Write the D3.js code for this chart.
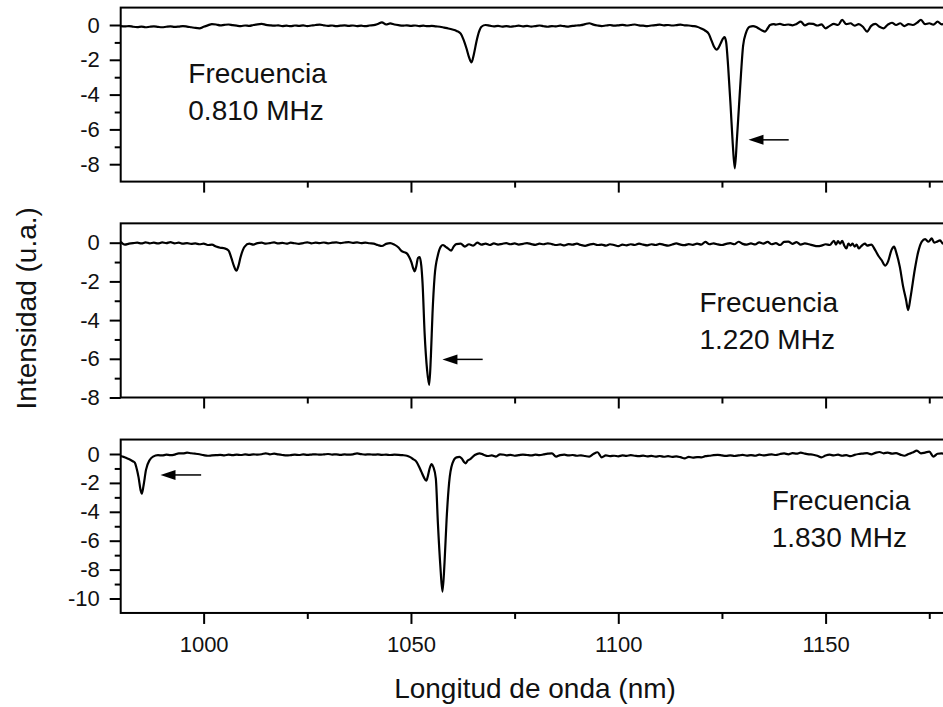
<!DOCTYPE html>
<html><head><meta charset="utf-8">
<script src="https://cdn.jsdelivr.net/npm/d3@7"></script>
<style>
html,body{margin:0;padding:0;background:#fff;}
svg{display:block;}
</style>
</head><body>
<svg id="c" width="943" height="707"></svg>
<script>
// ---------------- DATA ----------------
const wavelengthDomain = [980, 1180];
const xMajorTicks = [1000, 1050, 1100, 1150];
const xMinorTicks = [1025, 1075, 1125, 1175];

const yDomains = [[1, -9], [1, -8], [1, -11]];
const yMajorTicks = [[0, -2, -4, -6, -8], [0, -2, -4, -6, -8], [0, -2, -4, -6, -8, -10]];
const yMinorTicks = [[-1, -3, -5, -7], [-1, -3, -5, -7], [-1, -3, -5, -7, -9]];

const panelLabels = [["Frecuencia", "0.810 MHz"], ["Frecuencia", "1.220 MHz"], ["Frecuencia", "1.830 MHz"]];
const xTitle = "Longitud de onda (nm)";
const yTitle = "Intensidad (u.a.)";

// arrows: [head wavelength, tail wavelength, intensity]
const arrowHeads = [1131.4, 1057.6, 989.6];
const arrowTails = [1141.1, 1067.3, 999.4];
const arrowLevels = [-6.6, -6.03, -1.45];

// spectra: [wavelength nm, intensity u.a.]
const spectrum1 = [
[980,-0.06],[981,-0.08],[982,-0.06],[983,-0.1],[984,-0.12],[985,-0.09],[986,-0.13],[987,-0.1],[988,-0.08],[989,-0.11],
[990,-0.13],[991,-0.1],[992,-0.08],[993,-0.11],[994,-0.09],[995,-0.06],[996,-0.09],[997,-0.13],[998,-0.17],[999,-0.19],
[1000,-0.1],[1001,-0.02],[1002,0.05],[1003,0.03],[1004,-0.02],[1005,0.01],[1006,0.03],[1007,-0.01],[1008,-0.04],[1009,-0.06],
[1010,-0.03],[1011,-0.05],[1012,0.0],[1013,0.04],[1014,0.06],[1015,0.01],[1016,-0.02],[1017,-0.04],[1018,-0.02],[1019,-0.06],
[1020,-0.04],[1021,-0.07],[1022,-0.03],[1023,-0.05],[1024,-0.02],[1025,-0.06],[1026,-0.03],[1027,0.0],[1028,0.02],[1029,-0.02],
[1030,-0.05],[1031,-0.03],[1032,-0.07],[1033,-0.04],[1034,-0.02],[1035,-0.05],[1036,-0.03],[1037,-0.06],[1038,-0.04],[1039,-0.07],
[1040,-0.03],[1041,-0.01],[1042,0.06],[1043,0.15],[1044,0.03],[1045,0.09],[1046,0.03],[1047,-0.01],[1048,-0.04],[1049,-0.02],
[1050,-0.05],[1051,-0.03],[1052,-0.06],[1053,-0.04],[1054,-0.07],[1055,-0.05],[1056,-0.08],[1057,-0.1],[1058,-0.15],[1059,-0.2],
[1060,-0.26],[1061,-0.34],[1062,-0.5],[1062.7,-0.85],[1063.4,-1.35],[1064,-1.85],[1064.6,-2.15],[1065.2,-1.65],[1065.8,-0.95],[1066.4,-0.4],
[1067,-0.1],[1068,0.0],[1069,-0.04],[1070,-0.08],[1071,-0.05],[1072,-0.09],[1073,-0.06],[1074,-0.1],[1075,-0.07],[1076,-0.04],
[1077,-0.08],[1078,-0.05],[1079,-0.09],[1080,-0.06],[1081,-0.03],[1082,-0.07],[1083,-0.1],[1084,-0.06],[1085,-0.08],[1086,-0.04],
[1087,-0.07],[1088,-0.09],[1089,-0.05],[1090,-0.03],[1091,-0.01],[1092,0.05],[1093,0.1],[1094,0.02],[1095,-0.03],[1096,-0.06],
[1097,-0.03],[1098,0.0],[1099,-0.04],[1100,-0.02],[1101,0.01],[1102,-0.03],[1103,0.0],[1104,0.03],[1105,-0.02],[1106,-0.04],
[1107,-0.06],[1108,-0.03],[1109,-0.01],[1110,0.02],[1111,-0.02],[1112,0.0],[1113,-0.03],[1114,-0.01],[1115,0.02],[1116,-0.02],
[1117,-0.03],[1118,-0.06],[1119,-0.1],[1120,-0.2],[1121,-0.33],[1121.8,-0.5],[1122.5,-0.9],[1123.1,-1.25],[1123.7,-1.42],[1124.2,-1.3],
[1124.7,-1.05],[1125.2,-0.8],[1125.6,-0.7],[1126,-0.96],[1126.5,-2.4],[1127.1,-4.7],[1127.6,-6.8],[1128.1,-8.24],[1128.6,-6.6],[1129.1,-4.7],
[1129.6,-2.8],[1130.1,-1.2],[1130.8,-0.45],[1131.7,-0.1],[1132.5,-0.06],[1133.3,-0.12],[1134,-0.22],[1134.7,-0.32],[1135.4,-0.38],[1136,-0.2],
[1136.6,0.0],[1137.5,0.05],[1138,0.02],[1139,0.06],[1140,0.0],[1141,0.03],[1142,-0.02],[1143,0.06],[1144,0.19],[1145,-0.02],
[1146,0.08],[1147,0.06],[1148,-0.03],[1149,0.04],[1150,-0.19],[1151,-0.05],[1152,0.06],[1153,0.0],[1154,0.29],[1155,0.05],
[1156,0.1],[1157,-0.04],[1158,0.05],[1159,-0.1],[1160,-0.38],[1161,-0.05],[1162,0.06],[1163,-0.1],[1164,-0.19],[1165,0.02],
[1166,0.13],[1167,0.0],[1168,0.1],[1169,-0.06],[1170,0.05],[1171,0.0],[1172,0.12],[1173,0.29],[1174,0.05],[1175,0.1],
[1176,0.02],[1177,0.19],[1178,0.04],[1179,0.08],[1180,0.02]
];

const spectrum2 = [
[980,0.05],[981,-0.1],[982,-0.05],[983,-0.02],[984,0.0],[985,-0.04],[986,0.02],[987,-0.03],[988,0.0],[989,-0.04],
[990,0.02],[991,-0.02],[992,0.03],[993,-0.03],[994,0.0],[995,-0.05],[996,-0.02],[997,-0.06],[998,-0.04],[999,-0.08],
[1000,-0.05],[1001,-0.12],[1002,-0.1],[1003,-0.2],[1004,-0.26],[1005,-0.29],[1006,-0.4],[1006.7,-0.8],[1007.3,-1.2],[1007.9,-1.45],
[1008.4,-1.2],[1008.9,-0.75],[1009.9,-0.2],[1011,-0.05],[1012,-0.1],[1013,-0.02],[1014,0.0],[1015,-0.05],[1016,-0.02],[1017,0.02],
[1018,-0.04],[1019,-0.01],[1020,-0.05],[1021,0.0],[1022,-0.03],[1023,-0.06],[1024,-0.02],[1025,0.02],[1026,-0.03],[1027,0.0],
[1028,-0.02],[1029,0.01],[1030,-0.03],[1031,0.0],[1032,0.02],[1033,-0.02],[1034,0.01],[1035,0.03],[1036,-0.01],[1037,0.02],
[1038,-0.02],[1039,0.0],[1040,-0.03],[1041,-0.05],[1042,-0.12],[1043,-0.17],[1044,-0.06],[1045,-0.02],[1046,-0.1],[1047,-0.25],
[1047.7,-0.42],[1048.5,-0.5],[1049,-0.55],[1049.6,-0.75],[1050.1,-1.0],[1050.5,-1.3],[1050.9,-1.48],[1051.3,-1.2],[1051.7,-0.79],[1052.1,-0.75],
[1052.5,-1.2],[1052.8,-2.1],[1053.3,-4.7],[1053.9,-6.6],[1054.4,-7.35],[1054.8,-5.9],[1055.2,-3.65],[1055.7,-1.76],[1056.5,-0.64],[1057.2,-0.2],
[1057.7,-0.12],[1058.3,-0.2],[1058.9,-0.29],[1059.7,-0.41],[1060.3,-0.2],[1060.9,-0.07],[1062,-0.05],[1063,-0.2],[1064,-0.08],[1065,-0.15],
[1066,0.0],[1067,-0.1],[1068,-0.05],[1069,-0.12],[1070,-0.04],[1071,-0.1],[1072,-0.06],[1073,-0.02],[1074,-0.08],[1075,-0.04],
[1076,-0.1],[1077,-0.06],[1078,-0.02],[1079,-0.07],[1080,-0.11],[1081,-0.05],[1082,-0.08],[1083,-0.03],[1084,-0.07],[1085,-0.12],
[1086,-0.09],[1087,-0.14],[1088,-0.07],[1089,-0.1],[1090,-0.05],[1091,-0.12],[1092,-0.16],[1093,-0.1],[1094,-0.06],[1095,-0.12],
[1096,-0.1],[1097,-0.15],[1098,-0.08],[1099,-0.12],[1100,-0.18],[1101,-0.1],[1102,-0.14],[1103,-0.08],[1104,-0.12],[1105,-0.05],
[1106,-0.1],[1107,-0.14],[1108,-0.08],[1109,-0.12],[1110,-0.06],[1111,-0.11],[1112,-0.15],[1113,-0.09],[1114,-0.04],[1115,-0.1],
[1116,-0.13],[1117,-0.07],[1118,-0.11],[1119,-0.05],[1120,-0.1],[1121,0.04],[1122,-0.08],[1123,-0.03],[1124,-0.09],[1125,-0.12],
[1126,-0.06],[1127,-0.02],[1128,-0.08],[1129,0.05],[1130,-0.06],[1131,-0.1],[1132,-0.04],[1133,-0.09],[1134,0.02],[1135,-0.05],
[1136,0.04],[1137,-0.08],[1138,-0.02],[1139,-0.12],[1140,0.04],[1141,0.06],[1142,-0.06],[1143,0.03],[1144,-0.1],[1145,-0.04],
[1146,-0.08],[1147,-0.14],[1148,-0.18],[1149,-0.15],[1150,-0.08],[1151,-0.12],[1152,0.1],[1152.5,-0.1],[1153,0.08],[1153.5,-0.05],
[1154,0.1],[1154.5,-0.15],[1155,-0.3],[1155.5,-0.05],[1156,-0.15],[1156.5,-0.05],[1157,-0.2],[1157.5,-0.1],[1158,-0.3],[1158.5,-0.2],
[1159,-0.1],[1159.5,-0.05],[1160,-0.15],[1161,-0.1],[1162,-0.4],[1162.8,-0.7],[1163.5,-0.9],[1164.4,-1.18],[1165.1,-0.95],[1165.9,-0.37],
[1166.5,-0.2],[1167.1,-0.55],[1167.9,-1.25],[1168.7,-2.27],[1169.4,-2.95],[1169.9,-3.48],[1170.5,-2.8],[1171.5,-1.4],[1172.3,-0.5],[1173.2,0.06],
[1174,0.18],[1174.8,0.05],[1175.6,0.22],[1176.2,0.0],[1176.8,0.05],[1177.6,0.12],[1178.3,-0.05],[1179,0.0],[1180,-0.1]
];

const spectrum3 = [
[980,-0.15],[980.7,-0.2],[981.5,-0.3],[982.3,-0.4],[982.9,-0.5],[983.4,-0.6],[983.8,-0.95],[984.3,-1.6],[984.8,-2.5],[985.1,-2.75],
[985.5,-2.2],[986.1,-1.1],[987,-0.41],[987.8,-0.18],[989,-0.08],[990,-0.1],[991,-0.05],[992,-0.08],[993,-0.04],[994,0.05],
[995,0.04],[996,0.09],[997,0.05],[998,0.02],[999,-0.02],[1000,-0.08],[1001,-0.12],[1002,-0.1],[1003,-0.08],[1004,-0.06],
[1005,-0.09],[1006,-0.05],[1007,-0.08],[1008,-0.04],[1009,-0.07],[1010,-0.03],[1011,-0.06],[1012,-0.02],[1013,-0.05],[1014,-0.02],
[1015,0.05],[1016,-0.02],[1017,0.02],[1018,-0.03],[1019,-0.07],[1020,-0.1],[1021,-0.08],[1022,-0.05],[1023,-0.07],[1024,-0.03],
[1025,-0.06],[1026,-0.04],[1027,-0.02],[1028,-0.05],[1029,-0.03],[1030,0.0],[1031,-0.04],[1032,-0.02],[1033,-0.06],[1034,-0.03],
[1035,-0.05],[1036,-0.02],[1037,0.04],[1038,-0.01],[1039,-0.04],[1040,-0.02],[1041,-0.05],[1042,-0.03],[1043,-0.06],[1044,-0.04],
[1045,-0.07],[1046,-0.05],[1047,-0.06],[1048,-0.08],[1049,-0.12],[1049.7,-0.2],[1050.5,-0.35],[1051.3,-0.53],[1052,-0.9],[1052.5,-1.22],
[1053.1,-1.6],[1053.7,-1.85],[1054.1,-1.5],[1054.5,-1.0],[1055,-0.7],[1055.4,-0.9],[1056,-1.7],[1056.5,-4.8],[1057.1,-7.8],[1057.6,-9.53],
[1058.1,-7.5],[1058.6,-4.5],[1059.2,-2.0],[1060,-0.65],[1061,-0.23],[1061.7,-0.2],[1062.2,-0.3],[1062.8,-0.55],[1063.2,-0.65],[1063.7,-0.45],
[1064.2,-0.37],[1065.4,-0.07],[1066.5,0.05],[1067.5,-0.05],[1068.5,-0.14],[1069.5,-0.1],[1070.5,-0.18],[1071.5,-0.02],[1072.5,-0.05],[1073,-0.1],
[1074,-0.06],[1075,-0.12],[1076,-0.08],[1077,-0.04],[1078,-0.07],[1079,-0.1],[1080,-0.05],[1081,-0.08],[1082,-0.03],[1083,0.02],
[1084,0.05],[1085,-0.18],[1086,-0.08],[1087,-0.05],[1088,-0.1],[1089,-0.07],[1090,-0.12],[1091,-0.09],[1092,-0.14],[1093,-0.18],
[1094,0.0],[1095,0.12],[1096,-0.23],[1097,-0.1],[1098,-0.15],[1099,-0.12],[1100,-0.16],[1101,-0.1],[1102,-0.13],[1103,-0.08],
[1104,-0.12],[1105,-0.15],[1106,-0.11],[1107,-0.16],[1108,-0.13],[1109,-0.18],[1110,-0.14],[1111,-0.19],[1112,-0.15],[1113,-0.2],
[1114,-0.17],[1115,-0.22],[1116,-0.3],[1117,-0.2],[1118,-0.25],[1119,-0.21],[1120,-0.23],[1121,-0.15],[1122,-0.12],[1123,-0.08],
[1124,-0.06],[1125,-0.1],[1126,-0.13],[1127,-0.09],[1128,-0.14],[1129,-0.1],[1130,-0.06],[1131,-0.11],[1132,-0.08],[1133,-0.12],
[1134,-0.05],[1135,-0.09],[1136,-0.06],[1137,-0.03],[1138,-0.07],[1139,0.0],[1140,0.04],[1141,-0.02],[1142,0.06],[1143,0.02],
[1144,0.09],[1145,0.03],[1146,-0.02],[1147,-0.05],[1148,-0.12],[1149,-0.23],[1150,-0.1],[1151,-0.05],[1152,-0.1],[1153,-0.04],
[1154,-0.12],[1155,-0.08],[1156,-0.15],[1157,-0.06],[1158,0.0],[1159,0.03],[1160,0.06],[1161,-0.02],[1162,0.08],[1163,0.14],
[1164,0.05],[1165,0.1],[1166,0.02],[1167,0.06],[1168,-0.04],[1169,-0.12],[1170,0.0],[1171,0.1],[1172,0.23],[1173,0.05],
[1174,0.1],[1175,0.16],[1176,-0.18],[1177,0.02],[1178,0.05],[1179,-0.02],[1180,0.03]
];
const spectra = [spectrum1, spectrum2, spectrum3];

// ---------------- LAYOUT ----------------
const FONT = '"Liberation Sans", Arial, Helvetica, sans-serif';
const plotLeft = 120.7, plotRight = 950;
const panelBoxes = [
  {top: 7.6, bottom: 181.6},
  {top: 223.35, bottom: 397.5},
  {top: 439.55, bottom: 612.95}
];
const labelAnchors = [{x: 188.3, y: 83.3}, {x: 699.5, y: 311.7}, {x: 771.7, y: 510}];
const labelLineGap = 37;

const svg = d3.select("#c");
const x = d3.scaleLinear().domain(wavelengthDomain).range([plotLeft, plotRight]);
const line = d3.line().curve(d3.curveMonotoneX);

function styleAxis(g, fontSize) {
  g.select(".domain").remove();
  g.selectAll(".tick line").attr("stroke", "#000").attr("stroke-width", 2);
  g.selectAll(".tick text").attr("fill", "#111").attr("font-family", FONT).attr("font-size", fontSize);
}

spectra.forEach((data, i) => {
  const box = panelBoxes[i];
  const y = d3.scaleLinear().domain(yDomains[i]).range([box.top, box.bottom]);
  const g = svg.append("g");

  // spectrum
  g.append("path")
    .datum(data)
    .attr("d", line.x(d => x(d[0])).y(d => y(d[1])))
    .attr("fill", "none")
    .attr("stroke", "#000")
    .attr("stroke-width", 2.2)
    .attr("stroke-linejoin", "round");

  // frame
  g.append("rect")
    .attr("x", plotLeft).attr("y", box.top)
    .attr("width", plotRight - plotLeft).attr("height", box.bottom - box.top)
    .attr("fill", "none").attr("stroke", "#000").attr("stroke-width", 2);

  // y axis
  g.append("g").attr("transform", `translate(${plotLeft},0)`)
    .call(d3.axisLeft(y).tickValues(yMajorTicks[i]).tickSize(11).tickPadding(10).tickFormat(d => String(d)))
    .call(a => styleAxis(a, 22));
  g.append("g").attr("transform", `translate(${plotLeft},0)`)
    .call(d3.axisLeft(y).tickValues(yMinorTicks[i]).tickSize(6).tickFormat(""))
    .call(a => styleAxis(a, 22));

  // x axis
  const showLabels = i === spectra.length - 1;
  g.append("g").attr("transform", `translate(0,${box.bottom})`)
    .call(d3.axisBottom(x).tickValues(xMajorTicks).tickSize(11).tickPadding(12)
      .tickFormat(d => showLabels ? String(d) : ""))
    .call(a => styleAxis(a, 22));
  g.append("g").attr("transform", `translate(0,${box.bottom})`)
    .call(d3.axisBottom(x).tickValues(xMinorTicks).tickSize(6).tickFormat(""))
    .call(a => styleAxis(a, 22));

  // arrow
  const ay = y(arrowLevels[i]);
  const hx = x(arrowHeads[i]), tx = x(arrowTails[i]);
  g.append("line").attr("x1", tx).attr("x2", hx + 10).attr("y1", ay).attr("y2", ay)
    .attr("stroke", "#000").attr("stroke-width", 1.5);
  g.append("path")
    .attr("d", `M${hx},${ay} L${hx + 15},${ay - 5} L${hx + 15},${ay + 5} Z`)
    .attr("fill", "#000");

  // label
  const t = g.append("text")
    .attr("font-family", FONT).attr("font-size", 28).attr("fill", "#111");
  panelLabels[i].forEach((s, k) => {
    t.append("tspan").attr("x", labelAnchors[i].x).attr("y", labelAnchors[i].y + k * labelLineGap).text(s);
  });
});

// axis titles
svg.append("text")
  .attr("x", 535).attr("y", 698.3)
  .attr("text-anchor", "middle")
  .attr("font-family", FONT).attr("font-size", 28).attr("fill", "#111")
  .text(xTitle);
svg.append("text")
  .attr("transform", "translate(36,308.3) rotate(-90)")
  .attr("text-anchor", "middle")
  .attr("font-family", FONT).attr("font-size", 28).attr("fill", "#111")
  .text(yTitle);
</script>
</body></html>
